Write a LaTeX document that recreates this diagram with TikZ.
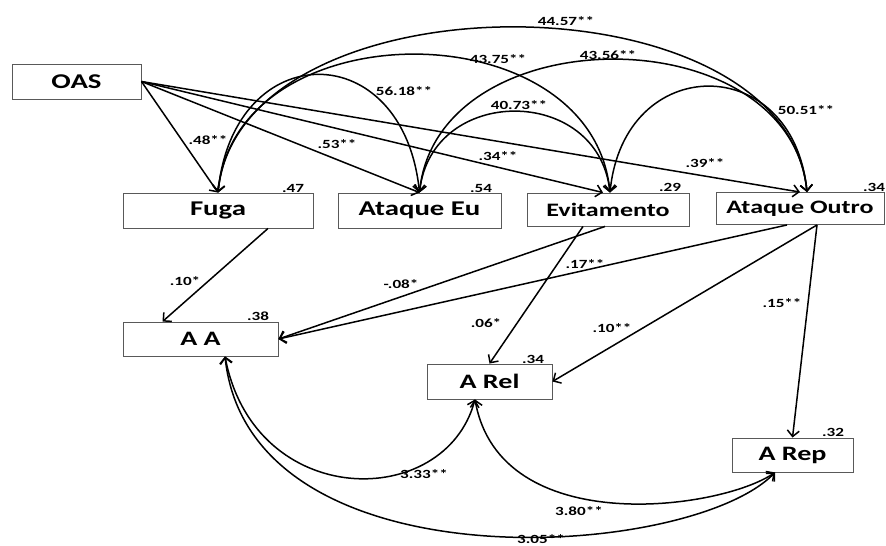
\documentclass[tikz,border=0pt]{standalone}
\usepackage{fontspec}
\setmainfont{Carlito}[FakeStretch=1.37]
\usetikzlibrary{arrows.meta,calc}
\begin{document}
\begin{tikzpicture}[x=1pt,y=-1pt,
  box/.style={draw=black!65, line width=0.9pt, minimum height=35pt, inner sep=0pt, font=\fontsize{21}{21}\selectfont\bfseries},
  boxs/.style={box, font=\fontsize{19}{19}\selectfont\bfseries},
  lbl/.style={font=\fontsize{12.5}{12.5}\selectfont\bfseries, inner sep=0pt},
  tip/.tip={Straight Barb[length=6pt,width=12pt]},
  reg/.style={line width=1.5pt, -tip},
  cov/.style={line width=1.5pt, tip-tip}]
\useasboundingbox (0,0) rectangle (886,546);
% boxes
\node[box, minimum width=129pt] (oas) at (76.5,81.5) {OAS};
\node[box, minimum width=190pt] (fuga) at (218,210.5) {Fuga};
\node[box, minimum width=163pt] (aeu) at (419.5,210.5) {Ataque Eu};
\node[boxs, minimum width=162pt, minimum height=33pt] (evit) at (608,209.5) {Evitamento};
\node[boxs, minimum width=168pt, minimum height=32pt] (aout) at (800,208.5) {Ataque Outro};
\node[box, minimum width=155pt, minimum height=34pt, font=\fontsize{20.5}{20.5}\selectfont\bfseries] (aa) at (200.5,339) {A A};
\node[box, minimum width=125pt, font=\fontsize{20.5}{20.5}\selectfont\bfseries] (arel) at (489.5,381.5) {A Rel};
\node[box, minimum width=121pt, minimum height=34pt, font=\fontsize{20.5}{20.5}\selectfont\bfseries] (arep) at (792.5,455) {A Rep};
% anchor points
\coordinate (fT) at (fuga.north);
\coordinate (eT) at (aeu.north);
\coordinate (vT) at ([xshift=2pt]evit.north);
\coordinate (oT) at ([xshift=7pt]aout.north);
\coordinate (aaB) at ([xshift=24.5pt]aa.south);
\coordinate (rB) at ([xshift=-14.5pt]arel.south);
\coordinate (pB) at ([xshift=-17.5pt]arep.south);
% OAS paths
\draw[reg] (oas.east) -- (fuga.north);
\draw[reg] (oas.east) -- (aeu.north);
\draw[reg] (oas.east) -- ([xshift=-5pt]evit.north);
\draw[reg] (oas.east) -- (aout.north);
% covariances top
\draw[cov] (fT) .. controls +(16,-157) and +(-16,-157) .. (eT);
\draw[cov] (fT) .. controls +(18,-184) and +(-18,-184) .. (vT);
\draw[cov] (fT) .. controls +(22,-220) and +(-22,-220) .. (oT);
\draw[cov] (eT) .. controls +(12,-108) and +(-12,-108) .. (vT);
\draw[cov] (eT) .. controls +(18,-177) and +(-18,-177) .. (oT);
\draw[cov] (vT) .. controls +(14,-141) and +(-14,-141) .. (oT);
% second-level paths
\draw[reg] ([xshift=50pt]fuga.south) -- ([xshift=-38pt]aa.north);
\draw[reg] ([xshift=-3pt]evit.south) -- (aa.east);
\draw[reg] ([xshift=-13pt]aout.south) -- (aa.east);
\draw[reg] ([xshift=-25pt]evit.south) -- (arel.north);
\draw[reg] ([xshift=17pt]aout.south) -- (arel.east);
\draw[reg] ([xshift=17pt]aout.south) -- (arep.north);
% covariances bottom
\draw[cov] (aaB) .. controls (255,511) and (445,511) .. (rB);
\draw[cov] (rB) .. controls (500,540) and (720,510) .. (pB);
\draw[cov] (aaB) .. controls (250,590) and (690,560) .. (pB);
% labels
\node[lbl] (l1) at (208,140) {.48**};
\node[lbl] (l2) at (337,144) {.53**};
\node[lbl] (l3) at (498,156) {.34**};
\node[lbl] (l4) at (705,163) {.39**};
\node[lbl] (l5) at (404,91) {56.18**};
\node[lbl] (l6) at (498,59) {43.75**};
\node[lbl] (l7) at (566,21) {44.57**};
\node[lbl] (l8) at (608,55) {43.56**};
\node[lbl] (l9) at (519,105) {40.73**};
\node[lbl] (l10) at (806,110) {50.51**};
\node[lbl] (l11) at (185,281) {.10*};
\node[lbl] (l12) at (401,284) {-.08*};
\node[lbl] (l13) at (585,264) {.17**};
\node[lbl] (l14) at (486,323) {.06*};
\node[lbl] (l15) at (612,328) {.10**};
\node[lbl] (l16) at (782,303) {.15**};
\node[lbl] (l17) at (424,474) {3.33**};
\node[lbl] (l18) at (579,511) {3.80**};
\node[lbl] (l19) at (541,539) {3.05**};
% R-squared
\node[lbl] (r1) at (293,188) {.47};
\node[lbl] (r2) at (481,188) {.54};
\node[lbl] (r3) at (670,187) {.29};
\node[lbl] (r4) at (874,187) {.34};
\node[lbl] (r5) at (258,316) {.38};
\node[lbl] (r6) at (533,359) {.34};
\node[lbl] (r7) at (833,432) {.32};
\end{tikzpicture}
\end{document}
